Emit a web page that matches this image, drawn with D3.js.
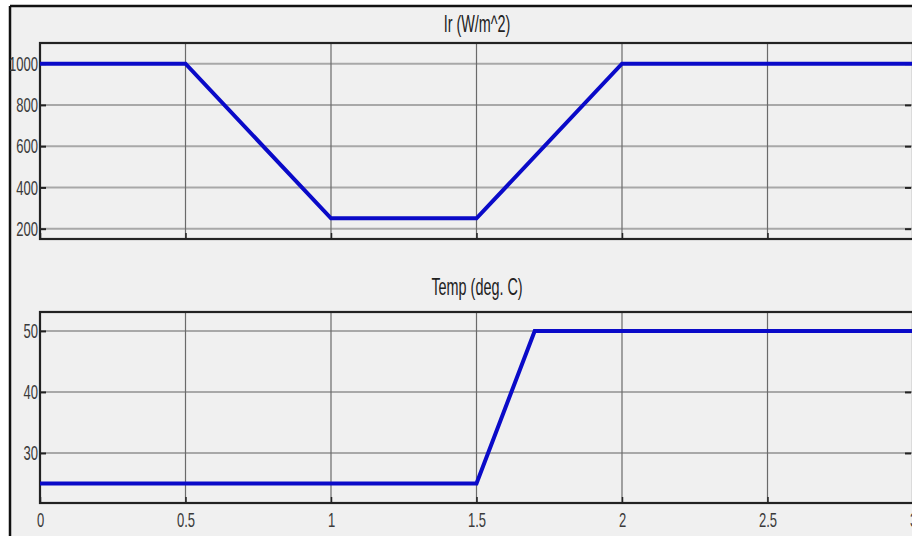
<!DOCTYPE html>
<html>
<head>
<meta charset="utf-8">
<script src="https://cdn.jsdelivr.net/npm/d3@7"></script>
<style>
  html, body { margin: 0; padding: 0; background: #ffffff; }
  svg { display: block; }
  text { font-family: "Liberation Sans", Arial, sans-serif; }
</style>
</head>
<body>
<svg id="chart" width="912" height="536"></svg>
<script>
// Irradiance profile (W/m^2) over time (s)
const irTime = [0, 0.5, 1, 1.5, 2, 3];
const irValue = [1000, 1000, 250, 250, 1000, 1000];
// Cell temperature profile (deg. C) over time (s)
const tempTime = [0, 1.5, 1.7, 3];
const tempValue = [25, 25, 50, 50];

const xTicks = [0, 0.5, 1, 1.5, 2, 2.5, 3];
const xTickLabels = ["0", "0.5", "1", "1.5", "2", "2.5", "3"];
const irTicks = [200, 400, 600, 800, 1000];
const tempTicks = [30, 40, 50];

const svg = d3.select("#chart");
const W = 912, H = 536;
const TICK_FONT = 21, NARROW = 0.62;        // condensed tick labels
const TITLE_FONT = 24, TITLE_NARROW = 0.6;  // condensed panel titles

// figure window background and frame
svg.append("rect").attr("x", 10).attr("y", 6).attr("width", W).attr("height", H)
  .attr("fill", "#f0f0f0");
svg.append("line").attr("x1", 10).attr("x2", W).attr("y1", 6).attr("y2", 6)
  .attr("stroke", "#111").attr("stroke-width", 2.5);
svg.append("line").attr("x1", 10).attr("x2", 10).attr("y1", 6).attr("y2", H)
  .attr("stroke", "#111").attr("stroke-width", 2.5);

const x = d3.scaleLinear().domain([0, 3]).range([40, 913]);

function panel(opts) {
  const { top, bottom, domain, ticks, times, values, title, titleY, showX } = opts;
  const y = d3.scaleLinear().domain(domain).range([bottom, top]);
  const g = svg.append("g");

  // horizontal grid
  g.selectAll(".hg").data(ticks).join("line")
    .attr("x1", x(0)).attr("x2", x(3))
    .attr("y1", d => y(d)).attr("y2", d => y(d))
    .attr("stroke", "#a8a8a8").attr("stroke-width", 2);
  // vertical grid
  g.selectAll(".vg").data(xTicks.slice(1, -1)).join("line")
    .attr("x1", d => x(d)).attr("x2", d => x(d))
    .attr("y1", top).attr("y2", bottom)
    .attr("stroke", "#6a6a6a").attr("stroke-width", 1.2);

  // y axis with inward ticks
  const yAxis = d3.axisLeft(y).tickValues(ticks).tickSize(-6).tickFormat(d3.format("d"));
  const ya = g.append("g").attr("transform", `translate(${x(0)},0)`).call(yAxis);
  ya.select(".domain").remove();
  ya.selectAll(".tick line").attr("stroke", "#222").attr("stroke-width", 2);
  ya.selectAll(".tick text").attr("font-size", TICK_FONT).attr("fill", "#3a3a3a")
    .attr("x", -2 / NARROW).attr("transform", `scale(${NARROW},1)`);

  const yr = d3.axisRight(y).tickValues(ticks).tickSize(-6).tickFormat("");
  const yra = g.append("g").attr("transform", `translate(${x(3) - 2},0)`).call(yr);
  yra.select(".domain").remove();
  yra.selectAll(".tick line").attr("stroke", "#222").attr("stroke-width", 2);

  // x axis (inward ticks)
  const xAxis = d3.axisBottom(x).tickValues(xTicks).tickSize(-6).tickPadding(9)
    .tickFormat((d, i) => showX ? xTickLabels[i] : "");
  const xa = g.append("g").attr("transform", `translate(0,${bottom})`).call(xAxis);
  xa.select(".domain").remove();
  xa.selectAll(".tick line").attr("stroke", "#222").attr("stroke-width", 1.5);
  xa.selectAll(".tick text").attr("font-size", TICK_FONT).attr("fill", "#3a3a3a")
    .attr("transform", `scale(${NARROW},1)`);

  // axes box
  g.append("rect").attr("x", x(0)).attr("y", top)
    .attr("width", x(3) - x(0)).attr("height", bottom - top)
    .attr("fill", "none").attr("stroke", "#222").attr("stroke-width", 2.2);

  // signal trace
  const line = d3.line().x((d, i) => x(times[i])).y(d => y(d));
  g.append("path").datum(values).attr("d", line)
    .attr("fill", "none").attr("stroke", "#0a0ac8").attr("stroke-width", 4)
    .attr("stroke-linejoin", "miter");

  // title
  svg.append("text")
    .attr("transform", `translate(477,${titleY}) scale(${TITLE_NARROW},1)`)
    .attr("text-anchor", "middle")
    .attr("font-size", TITLE_FONT).attr("fill", "#222").text(title);
}

panel({ top: 43, bottom: 239, domain: [150, 1100], ticks: irTicks,
  times: irTime, values: irValue, title: "Ir (W/m^2)", titleY: 32, showX: false });
panel({ top: 312, bottom: 503, domain: [21.8, 53.1], ticks: tempTicks,
  times: tempTime, values: tempValue, title: "Temp (deg. C)", titleY: 295, showX: true });
</script>
</body>
</html>
